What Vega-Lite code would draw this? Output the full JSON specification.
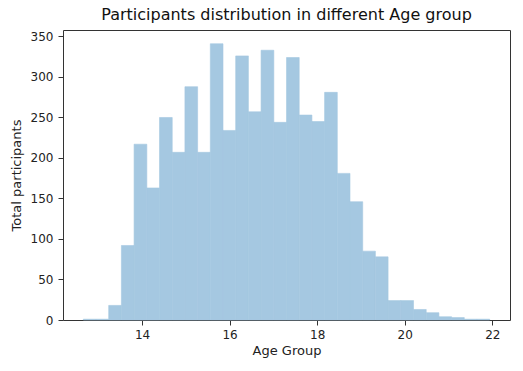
{
  "$schema": "https://vega.github.io/schema/vega-lite/v6.json",
  "autosize": {"type": "none"},
  "width": 447,
  "height": 290,
  "padding": {"left": 63, "top": 30, "right": 13, "bottom": 51},
  "background": "white",
  "title": {
    "text": "Participants distribution in different Age group",
    "font": "DejaVu Sans",
    "fontSize": 16,
    "fontWeight": "normal",
    "color": "#111111",
    "anchor": "middle",
    "offset": 7
  },
  "config": {
    "view": {"stroke": "#333333", "strokeWidth": 1},
    "axis": {
      "labelFont": "DejaVu Sans",
      "titleFont": "DejaVu Sans",
      "labelFontSize": 12,
      "titleFontSize": 13,
      "titleFontWeight": "normal",
      "labelColor": "#222222",
      "titleColor": "#222222",
      "tickColor": "#333333",
      "tickSize": 5,
      "labelPadding": 4,
      "domain": false,
      "grid": false
    }
  },
  "data": {
    "values": [
      {"start": 12.658, "end": 12.948, "count": 1},
      {"start": 12.948, "end": 13.238, "count": 1},
      {"start": 13.238, "end": 13.528, "count": 18},
      {"start": 13.528, "end": 13.818, "count": 92},
      {"start": 13.818, "end": 14.109, "count": 217},
      {"start": 14.109, "end": 14.399, "count": 163},
      {"start": 14.399, "end": 14.689, "count": 250},
      {"start": 14.689, "end": 14.979, "count": 207},
      {"start": 14.979, "end": 15.269, "count": 288},
      {"start": 15.269, "end": 15.559, "count": 207},
      {"start": 15.559, "end": 15.849, "count": 341},
      {"start": 15.849, "end": 16.139, "count": 234},
      {"start": 16.139, "end": 16.429, "count": 326},
      {"start": 16.429, "end": 16.719, "count": 257},
      {"start": 16.719, "end": 17.010, "count": 333},
      {"start": 17.010, "end": 17.300, "count": 244},
      {"start": 17.300, "end": 17.590, "count": 324},
      {"start": 17.590, "end": 17.880, "count": 253},
      {"start": 17.880, "end": 18.170, "count": 245},
      {"start": 18.170, "end": 18.460, "count": 281},
      {"start": 18.460, "end": 18.750, "count": 181},
      {"start": 18.750, "end": 19.040, "count": 146},
      {"start": 19.040, "end": 19.330, "count": 85},
      {"start": 19.330, "end": 19.620, "count": 78},
      {"start": 19.620, "end": 19.911, "count": 24},
      {"start": 19.911, "end": 20.201, "count": 24},
      {"start": 20.201, "end": 20.491, "count": 13},
      {"start": 20.491, "end": 20.781, "count": 9},
      {"start": 20.781, "end": 21.071, "count": 4},
      {"start": 21.071, "end": 21.361, "count": 3},
      {"start": 21.361, "end": 21.651, "count": 1},
      {"start": 21.651, "end": 21.941, "count": 1}
    ]
  },
  "mark": {"type": "bar", "fill": "#a5c8e1", "stroke": "#a5c8e1", "strokeWidth": 0.6, "cornerRadius": 0},
  "encoding": {
    "x": {
      "field": "start",
      "type": "quantitative",
      "scale": {"domain": [12.194, 22.405], "nice": false, "zero": false},
      "axis": {"title": "Age Group", "values": [14, 16, 18, 20, 22], "titlePadding": 4}
    },
    "x2": {"field": "end"},
    "y": {
      "field": "count",
      "type": "quantitative",
      "scale": {"domain": [0, 358], "nice": false},
      "axis": {"title": "Total participants", "values": [0, 50, 100, 150, 200, 250, 300, 350], "titlePadding": 7, "labelPadding": 5}
    },
    "y2": {"datum": 0}
  }
}
